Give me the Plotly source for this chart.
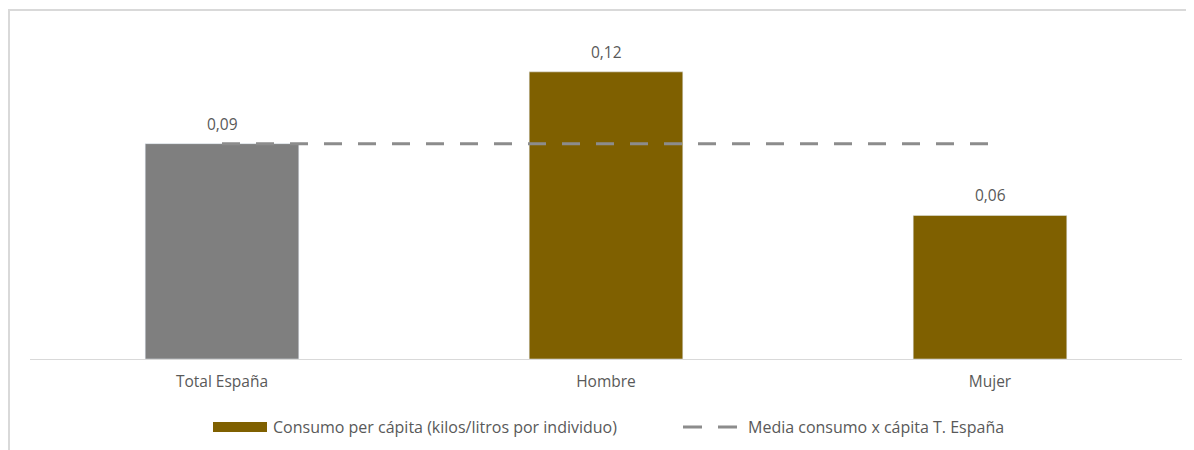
import plotly.graph_objects as go

categories = ["Total España", "Hombre", "Mujer"]
consumo = [0.09, 0.12, 0.06]
media = [0.09, 0.09, 0.09]
serie_consumo = "Consumo per cápita (kilos/litros por individuo)"
serie_media = "Media consumo x cápita T. España"

GRAY = "#7f7f7f"
BROWN = "#7f6000"
LINE = "#8c8c8c"
TXT = "#595959"
FONT = "Open Sans"
FS = 15.5

W, H = 1186, 442
L, R, T, B = 22, 12, 16, 91
PW, PH = W - L - R, H - T - B


def px(x):  # figure px -> paper x
    return (x - L) / PW


def py(y):  # figure px (from top) -> paper y
    return (H - B - y) / PH


fig = go.Figure()
fig.add_trace(go.Bar(x=categories[:1], y=consumo[:1], marker_color=GRAY,
                     showlegend=False))
fig.add_trace(go.Bar(x=categories[1:], y=consumo[1:], marker_color=BROWN,
                     name=serie_consumo, showlegend=False))
fig.add_trace(go.Scatter(x=categories, y=media, mode="lines", name=serie_media,
                         showlegend=False,
                         line=dict(color=LINE, width=3, dash="18px,16px")))

annotations = []
for c, v in zip(categories, consumo):
    annotations.append(dict(x=c, y=v, xref="x", yref="y", text=f"{v:.2f}".replace(".", ","),
                            showarrow=False, yanchor="middle", yshift=20,
                            font=dict(size=FS, color=TXT, family=FONT)))

# manual legend (wide swatch as in original)
leg_y = 419
annotations.append(dict(x=px(263), y=py(leg_y), xref="paper", yref="paper",
                        text=serie_consumo, showarrow=False, xanchor="left",
                        yanchor="middle", font=dict(size=FS + 0.5, color=TXT, family=FONT)))
annotations.append(dict(x=px(738), y=py(leg_y), xref="paper", yref="paper",
                        text=serie_media, showarrow=False, xanchor="left",
                        yanchor="middle", font=dict(size=FS + 0.5, color=TXT, family=FONT)))

shapes = [
    # chart border (top and left)
    dict(type="line", xref="paper", yref="paper", x0=px(0), x1=px(W + 10), y0=py(2), y1=py(2),
         line=dict(color="#d9d9d9", width=2)),
    dict(type="line", xref="paper", yref="paper", x0=px(1), x1=px(1), y0=py(2), y1=py(H + 20),
         line=dict(color="#d9d9d9", width=2)),
    # legend swatches
    dict(type="rect", xref="paper", yref="paper", x0=px(205), x1=px(259),
         y0=py(leg_y - 5), y1=py(leg_y + 5), fillcolor=BROWN, line=dict(width=0)),
    dict(type="line", xref="paper", yref="paper", x0=px(675), x1=px(730),
         y0=py(leg_y), y1=py(leg_y), line=dict(color=LINE, width=3, dash="19px,16px")),
]

fig.update_layout(
    width=W, height=H,
    margin=dict(l=L, r=R, t=T, b=B, autoexpand=False),
    paper_bgcolor="white", plot_bgcolor="white",
    separators=",.",
    barmode="relative", bargap=0.6,
    font=dict(family=FONT, color=TXT, size=FS),
    showlegend=False,
    xaxis=dict(showline=True, linecolor="#d9d9d9", linewidth=1, ticks="",
               tickfont=dict(size=FS, color=TXT, family=FONT), showgrid=False,
               ticklabelstandoff=8),
    yaxis=dict(range=[0, 0.14], visible=False, showgrid=False, zeroline=False),
    annotations=annotations,
    shapes=shapes,
)

fig.write_html("out.html")
